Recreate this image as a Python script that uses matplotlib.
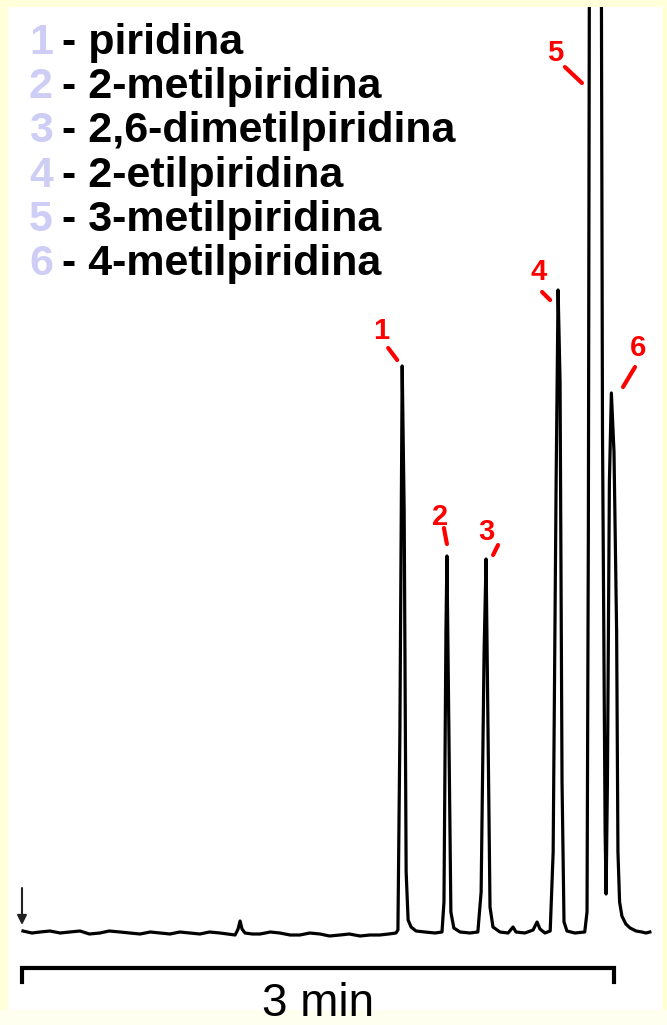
"""
Chromatogram of the pyridine mix (peaks 1-6) redrawn from the slide.
Trace vertices are read off the picture: time in seconds from injection,
response in arbitrary detector units above the baseline.
"""

import matplotlib
matplotlib.use("Agg")
import matplotlib.pyplot as plt
from matplotlib.patches import Rectangle
from matplotlib.transforms import offset_copy

plt.rcParams["font.family"] = ["Liberation Sans", "DejaVu Sans"]

# --- data -------------------------------------------------------------------
compounds = [
    "piridina",
    "2-metilpiridina",
    "2,6-dimetilpiridina",
    "2-etilpiridina",
    "3-metilpiridina",
    "4-metilpiridina",
]

# detector trace (s, a.u.)
trace_time = [
    0.3, 3.0, 5.5, 8.5, 11.6, 14.5, 17.6, 20.5, 23.7, 26.5, 29.8, 32.8,
    35.9, 39.0, 42.0, 45.0, 48.0, 51.0, 54.1, 57.0, 60.2, 62.5, 64.8,
    65.7, 66.3, 66.9, 67.8, 70.0, 72.4, 75.5, 78.4, 81.5, 84.5, 87.5, 90.6,
    93.5, 96.7, 99.5, 102.8, 105.8, 108.8, 111.5, 113.7,
    # peak 1
    114.3, 114.9, 115.6, 116.2, 116.8, 117.4, 118.3, 119.8, 122.5, 125.6, 127.7,
    # peak 2
    128.3, 128.9, 129.2, 129.8, 130.4, 131.3, 133.2, 136.2, 138.6,
    # peak 3 + small bumps
    139.6, 140.5, 141.1, 141.7, 142.3, 143.2, 145.3, 147.8, 149.3, 150.2,
    152.9, 155.4, 156.6, 157.5, 159.0, 160.6,
    # peak 4
    161.5, 162.4, 163.0, 163.6, 164.2, 164.8, 165.7, 168.1, 171.1,
    # peak 5 (off scale)
    171.8, 172.2, 172.7, 175.9, 176.5, 177.3, 177.6,
    # peak 6 + tail
    178.0, 178.6, 179.2, 180.0, 180.8, 181.2, 181.7, 182.4, 183.6, 184.9,
    186.7, 188.5, 189.7, 190.9,
]
trace_resp = [
    1, -1, 0, 1, -1, 0, 1, -2, -1, 1, 0, -1,
    -2, 0, -1, -2, 0, -1, -2, 0, -1, -2, -3,
    3, 11, 3, -1, -2, -2, 0, -1, -3, -3, -1, -2,
    -4, -3, -2, -4, -3, -3, -2, -1,
    2, 200, 566, 420, 60, 12, 5, 1, 0, -1, 0,
    30, 300, 376, 200, 20, 4, 0, -1, 0,
    40, 280, 373, 200, 25, 5, 0, -1, 5, 0,
    -1, 2, 10, 3, -1, 1,
    80, 450, 642, 550, 150, 10, 1, -1, 0,
    20, 400, 1300, 1300, 500, 100, 38,
    150, 450, 539, 480, 300, 80, 30, 16, 8, 4,
    1, 0, -1, 0,
]

# peak apexes used to hang the red labels
peak_time = [115.6, 129.2, 141.1, 163.0, 174.2, 179.4]
peak_resp = [566, 376, 373, 642, 1300, 539]

scale_bar_s = 180
scale_bar_label = "3 min"

# --- figure -----------------------------------------------------------------
W, H, DPI = 667, 1025, 100
fig = plt.figure(figsize=(W / DPI, H / DPI), dpi=DPI)
fig.patch.set_facecolor("#FFFFD9")

# pale bottom strip and white panel
fig.patches.append(Rectangle((0, 0), 1, 15 / H, transform=fig.transFigure,
                             facecolor="#FFFFF0", edgecolor="none", zorder=-2))
panel = Rectangle((8 / W, 15 / H), (662 - 8) / W, (1010 - 7) / H,
                  transform=fig.transFigure, facecolor="white",
                  edgecolor="none", zorder=-1)
fig.patches.append(panel)

# 1 px = 1 a.u. vertically, 1 px = 0.30405 s horizontally, t=0 at x=22 px
sx = 180 / 592
ax = fig.add_axes([0, 0, 1, 1])
ax.set_zorder(2)
ax.set_xlim(-22 * sx, (W - 22) * sx)
ax.set_ylim(-93, 932)
ax.set_facecolor("none")
ax.axis("off")

line, = ax.plot(trace_time, trace_resp, color="black", lw=2.3,
                solid_joinstyle="round", zorder=3)
top = 925
clip = Rectangle((-22 * sx, -93), (W * sx), 93 + top,
                 transform=ax.transData, facecolor="none", edgecolor="none")
line.set_clip_path(clip)

# injection arrow
ax.annotate("", xy=(0, 7), xytext=(0, 44),
            arrowprops=dict(arrowstyle="-|>", color="#222222", lw=1.5,
                            mutation_scale=14, shrinkA=0, shrinkB=0))

# scale bar
ax.plot([0, 0, scale_bar_s, scale_bar_s], [-50, -36, -36, -50],
        color="black", lw=3.0, solid_joinstyle="miter", zorder=3)
ax.text(scale_bar_s / 2, -84, scale_bar_label, ha="center", va="baseline",
        fontsize=33, color="black")

# red peak labels: text offset and leader-line ends, in pixels from the apex
label_offsets = [
    ((-21, 27), (-14, 18), (-5, 6)),
    ((-7, 31), (-3, 28), (0, 12)),
    ((0, 19), (12, 14), (7, 4)),
    ((-19, 10), (-16, -2), (-8, -10)),
    ((-40, -54), (-30, -60), (-13, -76)),
    ((26, 37), (23, 26), (11, 6)),
]
for i, (t, r) in enumerate(zip(peak_time, peak_resp)):
    r = min(r, top)
    (tx, ty), (ax0, ay0), (ax1, ay1) = label_offsets[i]
    tr = offset_copy(ax.transData, fig=fig, x=tx, y=ty, units="dots")
    ax.text(t, r, str(i + 1), transform=tr, ha="center", va="baseline",
            fontsize=21, fontweight="bold", color="#FF0000", zorder=4)
    ax.plot([t + ax0 * sx, t + ax1 * sx], [r + ay0, r + ay1],
            color="#FF0000", lw=3.0, solid_capstyle="round", zorder=4)

# compound list
for i, name in enumerate(compounds):
    yb = 1 - (54 + i * 44.2) / H
    fig.text(29 / W, yb, str(i + 1), ha="left", va="baseline",
             fontsize=31, fontweight="bold", color="#CDCDF5")
    fig.text(62 / W, yb, "- " + name, ha="left", va="baseline",
             fontsize=31, fontweight="bold", color="black")

fig.savefig("out.png", dpi=DPI, facecolor=fig.get_facecolor())
